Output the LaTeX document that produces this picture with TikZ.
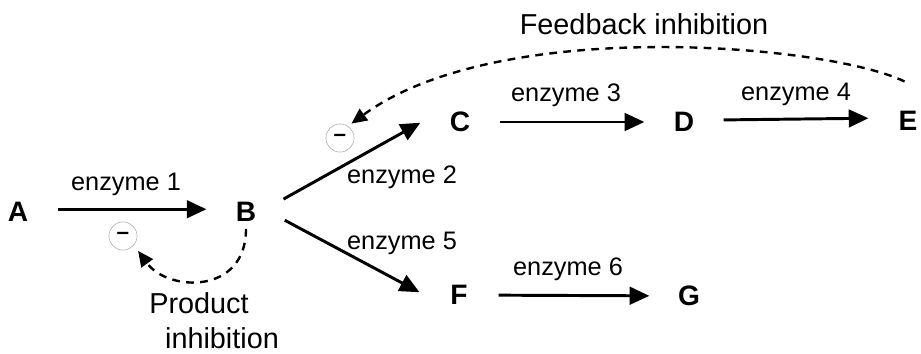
\documentclass[tikz,border=0pt]{standalone}
\usepackage{fontspec}
\setmainfont{Liberation Sans}
\usetikzlibrary{arrows.meta}
\definecolor{grisCercle}{RGB}{170,170,170}

\begin{document}
\begin{tikzpicture}[x=0.025cm, y=-0.025cm,
  metab/.style={circle, minimum size=56pt, inner sep=0pt,
                font=\fontsize{20}{22}\selectfont\bfseries},
  enz/.style={anchor=base, font=\fontsize{18}{20}\selectfont},
  legende/.style={anchor=base, font=\fontsize{20.5}{23}\selectfont},
  moins/.style={circle, draw=grisCercle, line width=0.4pt, minimum size=20pt,
                inner sep=0pt, font=\fontsize{16}{18}\selectfont\bfseries},
  reac/.style={-{Triangle[length=14pt,width=12.5pt]}, line width=2.1pt},
  inhib/.style={-{Triangle[length=11pt,width=10pt]}, line width=1.7pt,
                dash pattern=on 5.5pt off 4.5pt}]

\useasboundingbox (0,0) rectangle (921,354);

% Metabolites
\node[metab] (A) at (18,212) {A};
\node[metab] (B) at (246,212) {B};
\node[metab] (C) at (460,122) {C};
\node[metab] (D) at (684,122) {D};
\node[metab] (E) at (908,121) {E};
\node[metab] (F) at (459,295) {F};
\node[metab] (G) at (689,296) {G};

% Cercles d'inhibition
\node[moins] (mB) at (123,236) {–};
\node[moins] (mC) at (340,138) {–};

% Reactions
\draw[reac] (A.4) -- (B.176);
\draw[reac] (B.19) -- (C.181);
\draw[reac] (B.-12) -- (F.176);
\draw[reac] (C) -- (D);
\draw[reac] (D.3) -- (E.176);
\draw[reac] (F) -- (G);

% Enzymes
\node[enz] (e1) at (126,191) {enzyme 1};
\node[enz] (e2) at (402,184) {enzyme 2};
\node[enz] (e5) at (402,249) {enzyme 5};
\node[enz] (e3) at (566,102) {enzyme 3};
\node[enz] (e4) at (796,101) {enzyme 4};
\node[enz] (e6) at (568,275) {enzyme 6};

% Retro-inhibition
\draw[inhib, shorten >=3pt] (E.95) .. controls (830,45) and (500,15) .. (mC.56);
\node[legende] (fb) at (644,35) {Feedback inhibition};

% Inhibition par le produit
\draw[inhib, shorten >=5pt] ([yshift=-12pt]B.center) .. controls (246,295) and (168,292) .. (mB.-40);
\node[legende] (pi1) at (199,313) {Product};
\node[legende] (pi2) at (222,348) {inhibition};

\end{tikzpicture}
\end{document}
